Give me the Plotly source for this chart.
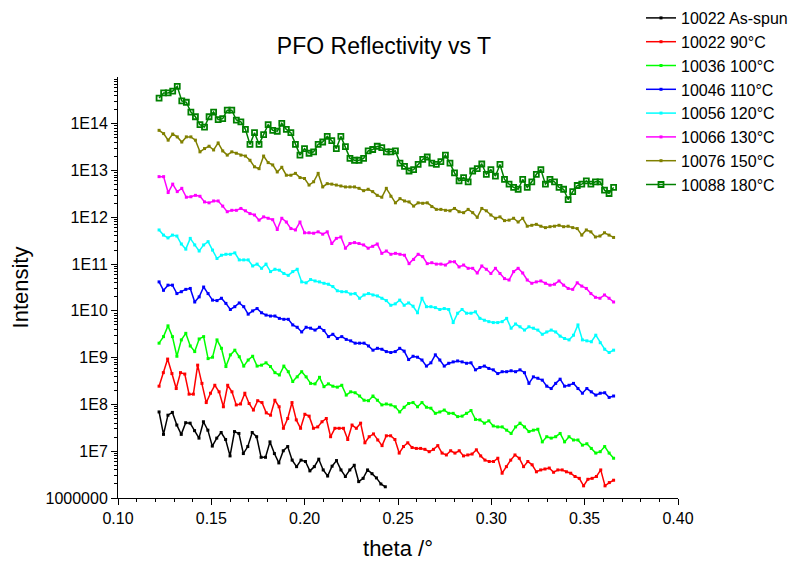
import numpy as np
import plotly.graph_objects as go

# ---- data: log10(Intensity) ----
series_names = ["10022 As-spun", "10022 90°C", "10036 100°C", "10046 110°C",
                "10056 120°C", "10066 130°C", "10076 150°C", "10088 180°C"]

log_asspun = [7.84, 7.36, 7.77, 7.83, 7.56, 7.36, 7.61, 7.60, 7.44, 7.28,
              7.63, 7.45, 7.11, 7.28, 7.40, 7.25, 6.90, 7.42, 7.38, 6.95,
              7.10, 7.40, 7.31, 6.87, 6.87, 7.20, 6.95, 6.75, 7.01, 7.10,
              6.81, 6.67, 6.81, 6.78, 6.58, 6.67, 6.83, 6.60, 6.47, 6.68,
              6.80, 6.60, 6.46, 6.60, 6.70, 6.35, 6.42, 6.60, 6.52, 6.43,
              6.30, 6.24]

log_90 = [8.39, 8.68, 8.97, 8.66, 8.34, 8.68, 8.65, 8.22, 8.22, 8.84,
          8.45, 8.04, 8.24, 8.41, 8.27, 7.95, 8.41, 8.27, 7.99, 8.01,
          8.24, 8.02, 7.88, 8.08, 8.04, 7.82, 7.77, 8.09, 7.95, 7.49,
          7.70, 8.04, 7.67, 7.49, 7.79, 7.75, 7.49, 7.52, 7.63, 7.70,
          7.31, 7.49, 7.49, 7.49, 7.25, 7.56, 7.49, 7.60,
          7.18, 7.31, 7.37, 7.24, 7.12, 7.33, 7.33, 7.25, 6.96, 7.10,
          7.18, 7.08, 7.06, 7.06, 7.04, 6.99, 7.04, 7.12, 6.96, 6.92,
          7.01, 6.96, 7.01, 6.90, 6.92, 6.94, 7.03, 6.90, 6.81, 6.78,
          6.78, 6.85, 6.53, 6.67, 6.81, 6.92, 6.85, 6.67, 6.78, 6.71,
          6.56, 6.60, 6.62, 6.64, 6.55, 6.60, 6.60, 6.56, 6.53, 6.46,
          6.42, 6.26, 6.40, 6.42, 6.46, 6.60, 6.26, 6.33, 6.38]

log_100 = [9.31, 9.45, 9.68, 9.45, 9.03, 9.38, 9.52, 9.25, 9.13, 9.40,
           9.45, 8.98, 9.01, 9.38, 9.20, 8.81, 9.06, 9.16, 9.02, 8.82,
           8.95, 9.03, 8.82, 8.84, 8.89, 8.81, 8.68, 8.63, 8.82, 8.70,
           8.49, 8.59, 8.70, 8.59, 8.45, 8.44, 8.58, 8.38, 8.44, 8.39,
           8.37, 8.41, 8.20, 8.27, 8.25, 8.18, 8.09, 8.08,
           8.18, 8.09, 7.99, 8.01, 7.99, 7.95, 7.84, 7.94, 8.02, 8.04,
           7.95, 8.04, 7.94, 7.92, 7.81, 7.84, 7.88, 7.81, 7.81, 7.74,
           7.75, 7.81, 7.87, 7.68, 7.67, 7.60, 7.65, 7.54, 7.52, 7.52,
           7.45, 7.38, 7.52, 7.60, 7.52, 7.42, 7.45, 7.47, 7.20, 7.31,
           7.28, 7.31, 7.38, 7.20, 7.31, 7.24, 7.24, 7.13, 7.16, 7.06,
           6.96, 6.99, 7.10, 6.96, 6.85]

log_110 = [10.62, 10.44, 10.55, 10.55, 10.37, 10.41, 10.46, 10.48, 10.19, 10.30,
           10.51, 10.37, 10.23, 10.22, 10.27, 10.16, 10.03, 10.09, 10.17, 10.09,
           9.93, 10.00, 10.05, 9.96, 9.91, 9.89, 9.89, 9.84, 9.82, 9.82,
           9.70, 9.65, 9.55, 9.65, 9.63, 9.59, 9.65, 9.58, 9.45, 9.50,
           9.41, 9.45, 9.39, 9.36, 9.31, 9.31, 9.31, 9.25,
           9.16, 9.20, 9.18, 9.13, 9.11, 9.13, 9.20, 9.14, 8.96, 9.03,
           9.01, 8.95, 8.82, 8.89, 9.06, 8.95, 8.82, 8.88, 8.91, 8.93,
           8.91, 8.88, 8.89, 8.74, 8.79, 8.82, 8.77, 8.74, 8.66, 8.70,
           8.70, 8.72, 8.70, 8.74, 8.68, 8.45, 8.59, 8.56, 8.52, 8.39,
           8.34, 8.45, 8.54, 8.39, 8.41, 8.45, 8.34, 8.24, 8.34, 8.27,
           8.20, 8.24, 8.25, 8.15, 8.18]

log_120 = [11.73, 11.62, 11.56, 11.62, 11.60, 11.43, 11.32, 11.55, 11.41, 11.28,
           11.41, 11.48, 11.30, 11.12, 11.19, 11.21, 11.21, 11.24, 11.09, 11.09,
           11.09, 10.96, 11.00, 10.91, 11.00, 10.84, 10.89, 10.87, 10.80, 10.76,
           10.84, 10.89, 10.62, 10.60, 10.67, 10.64, 10.62, 10.59, 10.57, 10.52,
           10.43, 10.41, 10.41, 10.36, 10.37, 10.27, 10.34, 10.37,
           10.34, 10.32, 10.27, 10.22, 10.12, 10.15, 10.23, 10.12, 10.17, 10.10,
           9.96, 10.27, 10.09, 10.09, 10.07, 10.03, 10.05, 10.03, 9.75, 9.95,
           10.03, 9.95, 9.95, 9.98, 9.84, 9.80, 9.77, 9.75, 9.75, 9.77,
           9.84, 9.63, 9.72, 9.66, 9.59, 9.66, 9.63, 9.59, 9.50, 9.55,
           9.59, 9.55, 9.46, 9.41, 9.38, 9.48, 9.70, 9.38, 9.36, 9.34,
           9.48, 9.32, 9.18, 9.11, 9.16]

log_130 = [12.87, 12.87, 12.53, 12.71, 12.55, 12.62, 12.43, 12.44, 12.47, 12.45,
           12.33, 12.31, 12.35, 12.35, 12.24, 12.12, 12.15, 12.15, 12.19, 12.14,
           12.08, 12.05, 11.94, 12.01, 11.98, 11.95, 11.74, 11.98, 11.90, 11.76,
           11.73, 11.90, 11.67, 11.67, 11.66, 11.69, 11.64, 11.69, 11.44, 11.55,
           11.58, 11.34, 11.44, 11.46, 11.44, 11.41, 11.34,
           11.38, 11.43, 11.23, 11.28, 11.21, 11.23, 11.21, 11.19, 11.01, 11.10,
           11.21, 11.16, 11.01, 11.03, 11.00, 11.00, 10.98, 11.05, 11.05, 10.94,
           10.98, 10.91, 10.91, 10.81, 10.96, 10.89, 10.80, 10.91, 10.80, 10.69,
           10.66, 10.84, 10.91, 10.81, 10.66, 10.59, 10.62, 10.64, 10.59, 10.55,
           10.57, 10.64, 10.55, 10.48, 10.46, 10.60, 10.53, 10.48, 10.37, 10.29,
           10.27, 10.34, 10.27, 10.19]

log_150 = [13.86, 13.79, 13.65, 13.78, 13.72, 13.61, 13.72, 13.72, 13.65, 13.40,
           13.47, 13.52, 13.44, 13.59, 13.42, 13.33, 13.40, 13.37, 13.33, 13.31,
           13.22, 13.08, 13.04, 13.31, 13.17, 13.12, 12.97, 13.07, 12.90, 12.90,
           12.94, 12.85, 12.83, 12.69, 12.76, 12.94, 12.65, 12.72, 12.71, 12.69,
           12.67, 12.65, 12.65, 12.65, 12.62, 12.57, 12.60,
           12.55, 12.47, 12.43, 12.62, 12.45, 12.31, 12.40, 12.35, 12.33, 12.24,
           12.31, 12.30, 12.31, 12.23, 12.17, 12.17, 12.15, 12.14, 12.19, 12.12,
           12.10, 12.17, 12.10, 12.00, 12.19, 12.14, 12.05, 11.98, 12.01, 11.93,
           11.94, 11.98, 11.90, 11.98, 11.81, 11.83, 11.85, 11.81, 11.78, 11.80,
           11.81, 11.83, 11.80, 11.81, 11.78, 11.76, 11.62, 11.73, 11.69, 11.58,
           11.60, 11.67, 11.62, 11.57]

log_180 = [14.55, 14.66, 14.66, 14.70, 14.80, 14.49, 14.46, 14.25, 14.15, 13.98,
           13.93, 14.15, 14.25, 14.09, 14.11, 14.29, 14.29, 14.08, 14.04, 13.88,
           13.56, 13.81, 13.56, 13.77, 13.98, 13.86, 13.84, 14.01, 13.88, 13.81,
           13.56, 13.33, 13.47, 13.37, 13.40, 13.56, 13.61, 13.73, 13.64, 13.47,
           13.73, 13.51, 13.26, 13.22, 13.22, 13.26, 13.42,
           13.45, 13.52, 13.49, 13.40, 13.40, 13.42, 13.16, 13.09, 12.99, 13.02,
           13.13, 13.24, 13.29, 13.16, 13.13, 13.19, 13.33, 13.16, 12.95, 12.78,
           12.85, 12.76, 12.99, 13.04, 13.14, 12.92, 13.02, 12.88, 13.13, 12.81,
           12.71, 12.64, 12.60, 12.81, 12.64, 12.76, 12.92, 13.02, 12.71, 12.81,
           12.76, 12.64, 12.60, 12.38, 12.55, 12.68, 12.71, 12.78, 12.71, 12.76,
           12.76, 12.58, 12.51, 12.64]

theta_start = 0.122
theta_end_asspun = 0.2432
theta_end = 0.3655

x_ticks = [0.10, 0.15, 0.20, 0.25, 0.30, 0.35, 0.40]
y_tickvals = [1e6, 1e7, 1e8, 1e9, 1e10, 1e11, 1e12, 1e13, 1e14]
y_ticktext = ["1000000", "1E7", "1E8", "1E9", "1E10", "1E11", "1E12", "1E13", "1E14"]

all_logs = [log_asspun, log_90, log_100, log_110, log_120, log_130, log_150, log_180]
colors = ["#000000", "#FF0000", "#00FF00", "#0000FF", "#00FFFF", "#FF00FF", "#808000", "#008000"]

FONT = "Liberation Sans, Arial, sans-serif"

fig = go.Figure()
for i, (name, logs, col) in enumerate(zip(series_names, all_logs, colors)):
    end = theta_end_asspun if i == 0 else theta_end
    x = np.linspace(theta_start, end, len(logs))
    y = [10 ** v for v in logs]
    if i == 7:
        marker = dict(symbol="square-open", size=5, color=col, line=dict(width=1.8, color=col))
    else:
        marker = dict(symbol="square", size=3, color=col, line=dict(width=0))
    fig.add_trace(go.Scatter(x=x, y=y, mode="lines+markers", name=name,
                             line=dict(color=col, width=1.5), marker=marker))

minor_y = [k * 10 ** n for n in range(6, 15) for k in range(2, 10)]

fig.update_layout(
    width=797, height=561,
    margin=dict(l=118, r=119, t=77, b=63, autoexpand=False),
    paper_bgcolor="white", plot_bgcolor="white",
    font=dict(family=FONT, size=16, color="black"),
    title=dict(text="PFO Reflectivity vs T", font=dict(size=23, family=FONT, color="black"),
               x=(384 - 118) / 560, xref="paper", xanchor="center",
               y=1 - 46 / 561, yref="container", yanchor="middle"),
    showlegend=True,
    hovermode=False,
    legend=dict(x=641 / 797, y=1 - 1 / 561, xref="container", yref="container",
                xanchor="left", yanchor="top",
                font=dict(size=16, family=FONT), bgcolor="rgba(0,0,0,0)",
                tracegroupgap=0),
    xaxis=dict(range=[0.10, 0.40], tickvals=x_ticks, ticktext=[f"{v:.2f}" for v in x_ticks],
               automargin=False,
               showgrid=False, zeroline=False, showline=True, linecolor="black", linewidth=1,
               ticks="outside", ticklen=6, tickcolor="black", tickwidth=1,
               minor=dict(ticks="outside", ticklen=3, dtick=0.01, tick0=0.10, tickcolor="black", showgrid=False),
               title=dict(text="theta /°", font=dict(size=22, family=FONT), standoff=15),
               tickfont=dict(size=16, family=FONT)),
    yaxis=dict(type="log", range=[6, 15], tickvals=y_tickvals, ticktext=y_ticktext,
               automargin=False,
               showgrid=False, zeroline=False, showline=True, linecolor="black", linewidth=1,
               ticks="outside", ticklen=6, tickcolor="black", tickwidth=1,
               minor=dict(ticks="outside", ticklen=3, tickvals=minor_y, tickcolor="black", showgrid=False),
               title=dict(text="Intensity", font=dict(size=22, family=FONT), standoff=10),
               tickfont=dict(size=16, family=FONT)),
)

fig.write_html("out.html", config={"displayModeBar": False},
               post_script="document.body.style.margin='0px';")
